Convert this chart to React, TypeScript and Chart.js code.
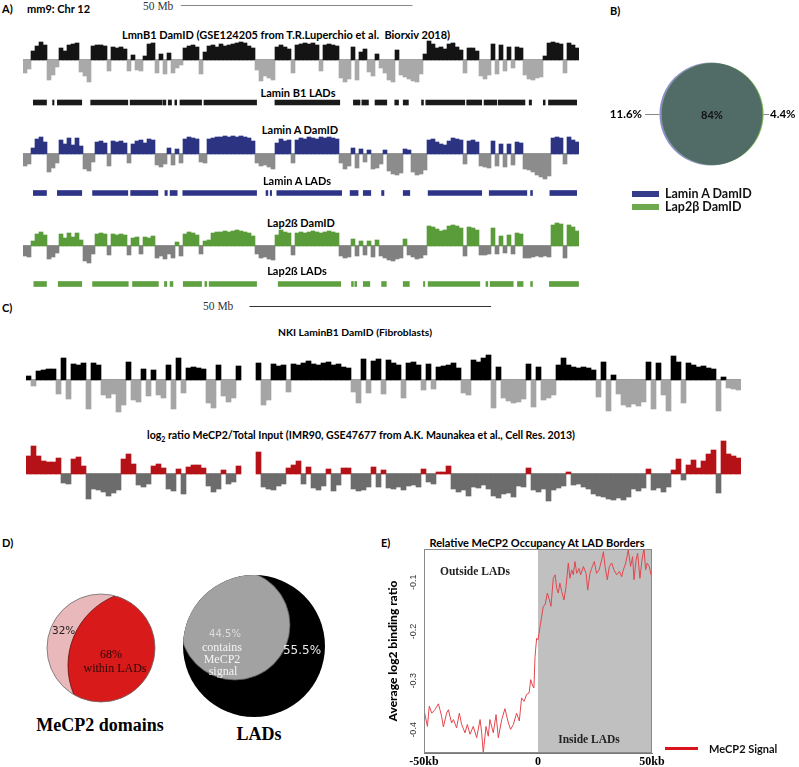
import React, { useEffect, useRef } from 'react';
import { Chart, registerables } from 'chart.js';

Chart.register(...registerables);

const SANS = 'Lato, "Open Sans", sans-serif';
const SERIF = '"Liberation Serif", "DejaVu Serif", serif';

// ---------------- DATA ----------------
// Panel A: mm9 chr12 signal tracks (log2 DamID score per genomic bin)
const A_LMNB1 = [
  -1.3, -0.9, 0.9, 1.4, 1.8, 1.5, -2.0, -1.5, -0.7, 1.2,
  0.9, 1.5, 1.6, 1.7, -1.2, -1.6, -2.2, 1.4, 1.5, 1.5,
  1.4, -1.1, 1.3, 1.2, 1.3, 1.1, -1.1, 0.5, -1.0, -1.1,
  0.4, 1.6, 1.7, -1.3, 0.6, -1.4, 0.7, -1.3, -0.8, -0.5,
  1.2, 1.4, 1.5, 1.3, -1.4, 0.8, 1.4, 1.5, 1.3, 1.6,
  1.4, 1.5, 1.6, 1.7, 1.8, 1.7, 1.4, 1.2, -1.0, -2.1,
  -1.6, -1.8, -2.0, 1.3, 1.5, 1.3, 1.1, -1.3, 1.5, 1.6,
  1.7, 1.6, 1.7, 1.5, -1.1, 1.5, 1.6, 1.5, 1.4, -1.8,
  -2.2, -1.9, 1.3, -2.0, 0.8, 1.1, -1.2, -1.6, 0.6, -0.8,
  -1.3, -2.0, -2.2, 1.0, -1.5, -1.7, -1.9, -2.1, -2.2, -1.4,
  0.6, 1.9, 1.6, 1.2, 1.3, 1.1, 1.6, 1.7, 1.3, 1.0,
  -1.3, 1.2, 1.2, 0.9, -1.6, -1.9, -1.5, 1.6, -1.4, 1.5,
  -1.1, 1.3, -0.8, 1.3, 1.2, -1.5, -1.9, -2.0, -1.8, -1.7,
  0.4, 1.7, 1.8, 1.7, 1.6, -1.3, 1.7, 1.5, 1.2,
];
const A_LAMINA = [
  -1.2, -1.0, 0.6, 1.5, 1.7, 1.2, -1.8, -1.4, -0.9, 1.4,
  1.0, 1.6, 0.9, 1.6, 0.8, -1.5, -1.7, -0.8, 1.2, 1.3,
  1.1, -1.2, 1.3, 1.2, 1.3, 1.1, -0.9, 1.0, 1.3, 1.4,
  1.1, 1.5, 1.4, -1.1, -1.3, -1.0, 0.6, -1.1, 0.5, -0.9,
  1.5, 1.7, 1.6, 1.5, -0.8, -0.9, 1.5, 1.6, 1.7, 1.7,
  1.8, 1.7, 1.8, 1.7, 1.8, 1.7, 1.6, 1.3, -0.9, -1.2,
  -1.1, -1.3, -1.5, 1.1, 1.5, 1.3, 1.4, -0.9, 1.4, 1.6,
  1.5, 1.7, 1.6, 1.5, 1.7, 1.6, 1.7, 1.6, 1.5, -0.9,
  -1.5, -1.2, 0.6, -1.4, 0.5, -0.8, 0.4, -1.5, -1.4, -1.0,
  0.4, -1.7, -2.0, -2.1, -1.9, 0.5, 0.4, -1.8, -2.1, -2.0,
  -1.6, 1.4, 1.5, 1.2, 1.0, 0.9, 1.3, 1.6, 1.5, 1.4,
  -1.0, 1.3, 1.4, 1.2, -1.2, -1.3, -1.4, 1.3, -1.2, 1.0,
  -1.3, 1.0, -1.1, 1.2, 1.1, -1.5, -1.6, -1.8, -2.1, -2.3,
  -2.5, -2.2, 1.6, 1.7, 1.6, -1.0, 1.7, 1.4, 1.2,
];
const A_LAP2 = [
  -1.0, -1.1, 0.5, 1.2, 1.4, 1.1, -1.3, -1.1, -0.7, 1.2,
  0.8, 1.3, 0.9, 1.3, 0.6, -1.5, -1.7, -0.8, 1.2, 1.3,
  1.2, -0.9, 1.2, 1.1, 1.2, 1.1, -0.9, 0.8, 0.9, -0.8,
  0.9, 0.8, 1.0, -1.2, -1.0, -1.3, -0.8, -1.2, 0.4, -1.0,
  1.2, 1.4, 1.3, 1.1, -0.8, 0.5, 0.6, 1.3, 1.4, 1.4,
  1.5, 1.4, 1.5, 1.6, 1.5, 1.4, 1.3, 1.0, -0.8, -1.2,
  -1.1, -1.3, -1.4, 1.1, 1.6, 1.4, 1.3, -0.9, 1.3, 1.4,
  1.3, 1.4, 1.5, 1.4, 1.3, 1.4, 1.5, 1.4, 1.3, -1.0,
  -1.2, -1.1, 0.7, -1.0, 0.5, -0.9, 0.5, -1.1, 0.6, -1.0,
  -1.2, -1.4, -1.5, -1.3, -1.2, 0.7, -0.9, -1.1, -1.3, -1.2,
  -0.9, 2.0, 1.9, 1.7, 1.5, 1.6, 2.0, 2.1, 2.0, 1.8,
  -1.0, 1.9, 1.8, 1.6, -0.9, -0.9, -0.8, 1.8, -0.8, 1.0,
  -0.7, 1.1, -0.8, 1.3, 1.2, -1.2, -1.2, -1.1, -1.0, -1.1,
  -1.0, -1.1, 2.1, 2.3, 2.2, -1.2, 2.1, 1.9, 1.5,
];
// LAD calls, [start Mb, end Mb]
const LAD_B1 = [
  [2.2, 5.0], [6.3, 6.6], [7.3, 12.5], [14.4, 22.3], [22.8, 29.6], [29.8, 30.4], [30.9, 31.6],
  [32.3, 32.7], [33.4, 38.0], [38.5, 49.7], [53.6, 67.4], [70.3, 71.7], [72.1, 73.5], [74.9, 77.4],
  [79.1, 79.9], [80.9, 82.0], [84.8, 85.2], [85.7, 94.0], [94.4, 97.6], [98.1, 100.8], [101.1, 106.8],
  [107.7, 108.2], [110.7, 111.1], [111.8, 117.8],
];
const LAD_LAMINA = [
  [2.2, 5.0], [7.3, 12.5], [14.8, 22.3], [22.9, 28.7], [30.2, 30.7], [31.3, 32.8], [34.0, 49.7],
  [51.7, 52.1], [52.6, 52.9], [54.0, 67.8], [69.6, 71.3], [72.4, 74.0], [76.3, 76.8], [80.9, 82.3],
  [86.2, 97.6], [99.2, 107.2], [108.0, 108.4], [112.1, 117.8],
];
const LAD_LAP2 = [
  [2.3, 5.0], [7.5, 12.5], [14.8, 22.4], [23.3, 28.8], [30.1, 30.6], [31.3, 31.9], [34.1, 38.0],
  [38.7, 39.1], [39.6, 49.7], [54.3, 67.6], [69.9, 70.3], [70.6, 71.0], [72.4, 73.8], [76.3, 77.3],
  [80.9, 82.2], [85.2, 85.5], [86.2, 97.2], [98.5, 98.9], [99.4, 104.3], [105.2, 106.4],
  [108.0, 108.4], [112.0, 118.2],
];
const A_CHR_MB = 118.3;
const A_SCALE_MB = [33.2, 83.2];

// Panel C: human chromosome tracks (null = centromere gap)
const C_NKI = [
  0.4, -0.6, 0.9, 1.0, 1.1, 1.1, -1.4, 2.2, -1.9, 1.6,
  1.5, 1.7, -2.9, 1.7, 1.5, -1.5, -1.8, -1.4, -3.2, -2.5,
  1.8, -2.0, -2.2, 1.1, -1.6, 1.0, -1.5, -1.8, 1.5, -2.9,
  2.2, -1.3, 1.2, 1.3, 1.2, 1.1, -2.3, -2.8, 1.5, -1.6,
  -2.2, -1.8, 1.4, null, null, null, 1.7, -2.5, -2.0, 1.6,
  1.4, 1.5, -1.2, 1.6, 1.5, 1.7, 1.9, 1.6, 1.5, 1.7,
  1.8, 1.5, 1.6, 1.3, 1.2, -1.2, -2.3, 2.1, -1.3, 1.9,
  2.1, -1.4, 2.0, 1.7, 1.5, -1.8, 1.7, 1.8, 1.5, -1.0,
  1.6, -0.9, 1.3, 1.4, 1.5, 1.7, 1.2, -1.3, -1.5, 2.0,
  1.8, 2.2, 2.5, -2.8, 1.3, -1.8, -2.1, -2.3, -2.2, -1.9,
  1.6, -2.7, 1.3, -2.0, -1.8, -1.5, 1.5, 2.2, 1.5, 1.3,
  1.2, 1.3, 1.2, 1.0, -1.7, 1.8, -3.1, 0.5, -1.4, -2.5,
  -2.7, -2.4, -2.6, -2.2, 1.8, -2.9, 1.7, -1.5, -3.1, 2.4,
  1.8, -2.3, 1.7, 1.5, 1.3, 1.4, 1.2, 1.1, -3.1, 0.3,
  -0.8, -0.9, -1.0,
];
const C_MECP2 = [
  1.8, 2.8, 1.8, 1.3, 1.2, 1.2, 1.6, -0.9, -1.0, 1.5,
  1.7, 0.8, -2.5, -1.5, -1.6, -1.8, -2.2, -1.9, -1.6, 1.5,
  2.0, 1.0, -1.1, -1.3, -1.0, 0.8, 1.0, 0.6, -1.5, -1.7,
  0.5, -2.0, 0.7, 0.9, 0.9, 0.6, -1.2, -1.8, -1.5, 0.4,
  -1.0, -0.8, 0.8, null, null, null, 2.2, -1.3, -1.5, -1.6,
  -1.2, -1.0, 0.6, 0.9, 1.3, -1.0, 0.7, -1.4, -1.6, -1.2,
  0.5, -1.7, -1.1, 0.6, 0.6, -1.5, -1.7, -1.6, -1.3, 0.7,
  -1.3, 0.4, -1.4, -1.5, -1.3, -1.6, -1.2, -1.1, -1.3, 0.5,
  -0.8, -1.0, 0.2, 0.2, 0.8, -1.5, -1.8, -1.6, -2.2, -1.3,
  -1.4, -1.1, -1.5, -2.2, -2.4, -2.0, -1.9, -2.3, -1.2, -1.3,
  0.6, -1.6, -1.8, -1.5, -2.7, -1.6, -1.4, -1.2, 0.2, -1.1,
  -1.0, -1.3, -1.5, -2.0, -2.2, -2.3, -2.5, -2.6, -2.4, -2.6,
  -2.3, -1.5, -1.7, -1.4, 0.5, -1.6, -1.4, -1.8, -1.3, 0.4,
  1.5, -0.6, 0.9, 1.4, 0.6, 1.3, 2.0, 2.4, -1.9, 3.3,
  2.0, 1.8, 1.6,
];
const C_CHR_MB = 146.5;
const C_SCALE_MB = [45.5, 95.5];

// Panel E: average MeCP2 log2 ratio around LAD borders
const E_KB = [
  -50.0, -48.5, -47.7, -46.6, -45.2, -43.7, -43.0, -42.3, -41.5, -40.1,
  -39.3, -37.9, -37.1, -35.7, -34.5, -33.5, -32.0, -31.0, -29.8, -28.4,
  -26.9, -25.4, -24.7, -24.0, -22.8, -21.8, -21.1, -19.6, -18.4, -17.4,
  -15.9, -14.5, -13.0, -12.0, -10.8, -9.4, -8.2, -7.2, -6.1, -5.0,
  -3.9, -3.2, -2.3, -1.8, -1.3, -0.6,
  0.0, 0.9, 1.6, 2.3, 3.1, 4.1, 5.0, 5.7, 6.7, 7.5,
  8.2, 8.9, 9.6, 10.4, 11.4, 12.3, 13.3, 14.0, 14.8, 15.5,
  16.2, 17.0, 18.0, 18.7, 19.9, 21.1, 21.8, 22.8, 23.5, 24.7,
  25.7, 26.8, 27.9, 28.7, 29.4, 30.4, 31.3, 32.3, 33.3, 34.5,
  35.7, 36.7, 37.4, 38.5, 39.6, 40.6, 41.5, 42.1, 43.0, 43.7,
  44.7, 45.6, 46.5, 47.2, 47.9, 48.8, 49.6, 50.0,
];
const E_VAL = [
  -0.359, -0.393, -0.352, -0.366, -0.359, -0.347, -0.359, -0.372, -0.394, -0.366,
  -0.359, -0.386, -0.379, -0.396, -0.366, -0.389, -0.406, -0.389, -0.409, -0.393,
  -0.416, -0.379, -0.406, -0.447, -0.393, -0.413, -0.379, -0.406, -0.369, -0.416,
  -0.379, -0.357, -0.386, -0.399, -0.389, -0.366, -0.382, -0.335, -0.342, -0.328,
  -0.325, -0.298, -0.311, -0.315, -0.251, -0.214,
  -0.217, -0.190, -0.170, -0.149, -0.146, -0.122, -0.136, -0.149, -0.092, -0.085,
  -0.112, -0.122, -0.102, -0.119, -0.136, -0.109, -0.061, -0.092, -0.075, -0.085,
  -0.058, -0.082, -0.072, -0.085, -0.068, -0.082, -0.116, -0.082, -0.072, -0.058,
  -0.082, -0.075, -0.055, -0.038, -0.068, -0.095, -0.068, -0.061, -0.075, -0.085,
  -0.078, -0.089, -0.075, -0.061, -0.034, -0.068, -0.048, -0.095, -0.055, -0.041,
  -0.092, -0.055, -0.031, -0.075, -0.061, -0.068, -0.085, -0.075,
];
const E_XTICKS = [-50, 0, 50];
const E_XLABELS = ['-50kb', '0', '50kb'];
const E_YTICKS = [-0.4, -0.3, -0.2, -0.1];
const E_YLABELS = ['-0.4', '-0.3', '-0.2', '-0.1'];
const E_RANGE = [-0.447, -0.0325];
const E_LAD_START = 0;

// Venn percentages
const VENN_B = ['11.6%', '84%', '4.4%'];
const VENN_D1 = ['32%', '68%'];
const VENN_D2 = ['44.5%', '55.5%'];

// Venn geometry (chart units; main circle radius = 1)
const GEO_B = { a: { x: -0.02, y: 0, r: 1 }, b: { x: 0.012, y: 0, r: 0.99 } };
const GEO_D1 = { a: { x: 0, y: 0, r: 1 }, b: { x: 0.778, y: -0.324, r: 1.389 } };
const GEO_D2 = { a: { x: 0, y: 0, r: 1 }, b: { x: -0.268, y: 0.296, r: 0.775 } };

// ---------------- PLUGINS ----------------
function zeroLine(color: string) {
  return {
    id: 'zeroLine',
    beforeDatasetsDraw(chart: any) {
      const { ctx } = chart;
      const y = Math.round(chart.scales.y.getPixelForValue(0)) - 0.5;
      const meta = chart.getDatasetMeta(0);
      const data = chart.data.datasets[0].data;
      ctx.save();
      ctx.strokeStyle = color;
      ctx.lineWidth = 1;
      ctx.beginPath();
      meta.data.forEach((bar: any, i: number) => {
        if (data[i] === null || !isFinite(bar.x)) return;
        ctx.moveTo(bar.x - bar.width / 2, y);
        ctx.lineTo(bar.x + bar.width / 2, y);
      });
      ctx.stroke();
      ctx.restore();
    },
  };
}

type Circ = { x: number; y: number; r: number };
type Layer = { circle: Circ; clip?: Circ; fill?: string; stroke?: string; lw?: number };
type Leader = { from: [number, number]; to: [number, number]; color: string };

function vennPlugin(layers: Layer[], leaders: Leader[] = []) {
  return {
    id: 'venn',
    afterDatasetsDraw(chart: any) {
      const { ctx } = chart;
      const sx = chart.scales.x;
      const sy = chart.scales.y;
      const path = (c: Circ) => {
        const cx = sx.getPixelForValue(c.x);
        const cy = sy.getPixelForValue(c.y);
        const r = Math.abs(sx.getPixelForValue(c.x + c.r) - cx);
        ctx.beginPath();
        ctx.arc(cx, cy, r, 0, Math.PI * 2);
      };
      layers.forEach((L) => {
        ctx.save();
        if (L.clip) {
          path(L.clip);
          ctx.clip();
        }
        path(L.circle);
        if (L.fill) {
          ctx.fillStyle = L.fill;
          ctx.fill();
        }
        if (L.stroke) {
          ctx.strokeStyle = L.stroke;
          ctx.lineWidth = L.lw || 1;
          ctx.stroke();
        }
        ctx.restore();
      });
      leaders.forEach((l) => {
        ctx.save();
        ctx.strokeStyle = l.color;
        ctx.lineWidth = 1;
        ctx.beginPath();
        const y = Math.round(sy.getPixelForValue(l.from[1])) + 0.5;
        ctx.moveTo(sx.getPixelForValue(l.from[0]), y);
        ctx.lineTo(sx.getPixelForValue(l.to[0]), y);
        ctx.stroke();
        ctx.restore();
      });
    },
  };
}

function shadePlugin(from: number, color: string, frame: string) {
  return {
    id: 'shade',
    beforeDatasetsDraw(chart: any) {
      const { ctx, chartArea } = chart;
      const x0 = chart.scales.x.getPixelForValue(from);
      ctx.save();
      ctx.fillStyle = color;
      ctx.fillRect(x0, chartArea.top, chartArea.right - x0, chartArea.bottom - chartArea.top);
      ctx.restore();
    },
    afterDraw(chart: any) {
      const { ctx, chartArea } = chart;
      ctx.save();
      ctx.strokeStyle = frame;
      ctx.lineWidth = 1;
      ctx.strokeRect(chartArea.left + 0.5, chartArea.top + 0.5, chartArea.right - chartArea.left - 1, chartArea.bottom - chartArea.top - 1);
      ctx.restore();
    },
  };
}

// ---------------- CONFIG BUILDERS ----------------
const baseOpts = () => ({
  animation: false,
  responsive: false,
  maintainAspectRatio: false,
  devicePixelRatio: 1,
  events: [],
  layout: { padding: 0 },
  plugins: { legend: { display: false }, tooltip: { enabled: false } },
});

function trackConfig(values: (number | null)[], pos: string, neg: string, min: number, max: number, zero: string) {
  return {
    type: 'bar',
    data: {
      labels: values.map((_, i) => i),
      datasets: [
        {
          data: values,
          backgroundColor: values.map((v) => ((v ?? 0) >= 0 ? pos : neg)),
          borderWidth: 0,
          barPercentage: 1,
          categoryPercentage: 1,
        },
      ],
    },
    options: {
      ...baseOpts(),
      scales: { x: { display: false }, y: { display: false, min, max } },
    },
    plugins: [zeroLine(zero)],
  };
}

function ladConfig(segs: number[][], color: string, maxMb: number) {
  return {
    type: 'bar',
    data: {
      datasets: [
        {
          data: segs.map((s) => ({ x: s, y: 0 })),
          backgroundColor: color,
          borderWidth: 0,
          barThickness: 5,
        },
      ],
    },
    options: {
      ...baseOpts(),
      indexAxis: 'y',
      scales: {
        x: { type: 'linear', display: false, min: 0, max: maxMb },
        y: { type: 'linear', display: false, min: -1, max: 1 },
      },
    },
  };
}

function scaleBarConfig(range: number[], maxMb: number, color: string) {
  return {
    type: 'line',
    data: {
      datasets: [
        {
          data: range.map((x) => ({ x, y: 0 })),
          borderColor: color,
          borderWidth: 1,
          pointStyle: 'line',
          pointRadius: 2.5,
          pointRotation: 90,
          pointBorderColor: color,
          pointBorderWidth: 1,
        },
      ],
    },
    options: {
      ...baseOpts(),
      scales: {
        x: { type: 'linear', display: false, min: 0, max: maxMb },
        y: { type: 'linear', display: false, min: -1, max: 1 },
      },
    },
  };
}

function vennConfig(w: number, h: number, unit: number, layers: Layer[], leaders: Leader[] = []) {
  return {
    type: 'scatter',
    data: { datasets: [] },
    options: {
      ...baseOpts(),
      scales: {
        x: { type: 'linear', display: false, min: -w / 2 / unit, max: w / 2 / unit },
        y: { type: 'linear', display: false, min: -h / 2 / unit, max: h / 2 / unit },
      },
    },
    plugins: [vennPlugin(layers, leaders)],
  };
}

function lineConfig() {
  return {
    type: 'line',
    data: {
      datasets: [
        {
          data: E_KB.map((x, i) => ({ x, y: E_VAL[i] })),
          borderColor: '#e3474e',
          borderWidth: 1,
          pointRadius: 0,
          tension: 0,
          fill: false,
        },
      ],
    },
    options: {
      ...baseOpts(),
      layout: { padding: { left: 0, right: 34, top: 19, bottom: 0 } },
      scales: {
        x: {
          type: 'linear',
          min: -50,
          max: 50,
          afterBuildTicks: (s: any) => {
            s.ticks = E_XTICKS.map((v) => ({ value: v }));
          },
          afterFit: (s: any) => {
            s.height = 14;
          },
          grid: { display: false, drawTicks: false },
          border: { display: true, color: '#777' },
          ticks: {
            padding: 2,
            color: '#000',
            maxRotation: 0,
            autoSkip: false,
            font: { family: SERIF, size: 12, weight: 'bold' },
            callback: (_v: any, i: number) => E_XLABELS[i],
          },
        },
        y: {
          type: 'linear',
          min: E_RANGE[0],
          max: E_RANGE[1],
          afterBuildTicks: (s: any) => {
            s.ticks = E_YTICKS.map((v) => ({ value: v }));
          },
          afterFit: (s: any) => {
            s.width = 38;
          },
          grid: { display: false, drawTicks: false },
          border: { display: true, color: '#777' },
          ticks: {
            minRotation: 90,
            maxRotation: 90,
            crossAlign: 'center',
            padding: 3,
            color: '#333',
            font: { family: '"Liberation Sans", Arial, sans-serif', size: 9 },
            callback: (_v: any, i: number) => E_YLABELS[i],
          },
          title: {
            display: true,
            text: 'Average log2 binding ratio',
            color: '#000',
            font: { family: SANS, size: 12, weight: '900' },
            padding: { top: 0, bottom: 0 },
          },
        },
      },
    },
    plugins: [shadePlugin(E_LAD_START, '#c0c0c0', '#8a8a8a')],
  };
}

// ---------------- COMPONENTS ----------------
function ChartBox({ x, y, w, h, make }: { x: number; y: number; w: number; h: number; make: () => any }) {
  const ref = useRef<HTMLCanvasElement | null>(null);
  useEffect(() => {
    const chart = new Chart(ref.current as HTMLCanvasElement, make());
    return () => chart.destroy();
  }, []);
  return (
    <canvas
      ref={ref}
      width={w}
      height={h}
      style={{ position: 'absolute', left: x, top: y, width: w, height: h, display: 'block' }}
    />
  );
}

function Txt({
  x,
  y,
  children,
  size = 11,
  weight = 700,
  family = SANS,
  color = '#000',
  align = 'left',
}: {
  x: number;
  y: number;
  children: any;
  size?: number;
  weight?: number;
  family?: string;
  color?: string;
  align?: 'left' | 'center' | 'right';
}) {
  const tx = align === 'center' ? '-50%' : align === 'right' ? '-100%' : '0';
  return (
    <div
      style={{
        position: 'absolute',
        left: x,
        top: y,
        transform: `translate(${tx}, -50%)`,
        fontSize: size,
        fontWeight: weight,
        fontFamily: family,
        color,
        whiteSpace: 'nowrap',
        lineHeight: 1,
      }}
    >
      {children}
    </div>
  );
}

export default function App() {
  return (
    <div
      style={{
        position: 'absolute',
        left: 0,
        top: 0,
        width: 799,
        height: 767,
        background: '#fff',
        overflow: 'hidden',
      }}
    >
      {/* Panel A */}
      <Txt x={2} y={8}>A)</Txt>
      <Txt x={27} y={8}>mm9: Chr 12</Txt>
      <Txt x={143} y={7} size={11.5} weight={400} family={SERIF} color="#333">50 Mb</Txt>
      <ChartBox x={23} y={0} w={556} h={11} make={() => scaleBarConfig(A_SCALE_MB, A_CHR_MB, '#888')} />

      <Txt x={286} y={34} align="center">LmnB1 DamID (GSE124205 from T.R.Luperchio et al.&nbsp; Biorxiv 2018)</Txt>
      <ChartBox x={23} y={40} w={556} h={44} make={() => trackConfig(A_LMNB1, '#141414', '#a9a9a9', -2.4, 2.0, '#a0a0a0')} />
      <Txt x={298} y={92} align="center">Lamin B1 LADs</Txt>
      <ChartBox x={23} y={98} w={556} h={9} make={() => ladConfig(LAD_B1, '#1a1a1a', A_CHR_MB)} />

      <Txt x={300} y={129} align="center">Lamin A DamID</Txt>
      <ChartBox x={23} y={134} w={556} h={48} make={() => trackConfig(A_LAMINA, '#2c3482', '#8c8c8c', -2.8, 2.0, '#999')} />
      <Txt x={297} y={180} align="center">Lamin A LADs</Txt>
      <ChartBox x={23} y={188} w={556} h={10} make={() => ladConfig(LAD_LAMINA, '#2e3588', A_CHR_MB)} />

      <Txt x={301} y={222} align="center">Lap2ß DamID</Txt>
      <ChartBox x={23} y={220} w={556} h={46} make={() => trackConfig(A_LAP2, '#5a9c3a', '#808080', -2.0, 2.6, '#999')} />
      <Txt x={297} y={270} align="center">Lap2ß LADs</Txt>
      <ChartBox x={23} y={279} w={556} h={10} make={() => ladConfig(LAD_LAP2, '#5fa040', A_CHR_MB)} />

      {/* Panel B */}
      <Txt x={610} y={10}>B)</Txt>
      <ChartBox
        x={640}
        y={54}
        w={144}
        h={120}
        make={() =>
          vennConfig(144, 120, 51.5, [
            { circle: GEO_B.a, fill: '#8b8fc5' },
            { circle: GEO_B.b, fill: '#7db55c' },
            { circle: GEO_B.b, clip: GEO_B.a, fill: '#516b67' },
          ], [
            { from: [-1.02, 0], to: [-1.3, 0], color: '#888' },
            { from: [1.0, 0], to: [1.11, 0], color: '#888' },
          ])
        }
      />
      <Txt x={712} y={114} align="center" size={11} color="#111">{VENN_B[1]}</Txt>
      <Txt x={642} y={114} align="right" size={11.5}>{VENN_B[0]}</Txt>
      <Txt x={770} y={114} size={11.5}>{VENN_B[2]}</Txt>
      <div style={{ position: 'absolute', left: 632, top: 191, width: 27, height: 6, background: '#353c89' }} />
      <div style={{ position: 'absolute', left: 632, top: 204, width: 27, height: 5.5, background: '#6ea84f' }} />
      <Txt x={665} y={193.5} size={12.5} color="#111">Lamin A DamID</Txt>
      <Txt x={665} y={206.5} size={12.5} color="#111">Lap2β DamID</Txt>

      {/* Panel C */}
      <Txt x={2} y={307}>C)</Txt>
      <Txt x={203} y={307} size={11.5} weight={400} family={SERIF} color="#333">50 Mb</Txt>
      <ChartBox x={26} y={301} w={715} h={11} make={() => scaleBarConfig(C_SCALE_MB, C_CHR_MB, '#333')} />
      <Txt x={355} y={332} align="center" size={10.3}>NKI LaminB1 DamID (Fibroblasts)</Txt>
      <ChartBox x={26} y={354} w={715} h={60} make={() => trackConfig(C_NKI, '#000', '#a5a5a5', -3.4, 2.6, '#999')} />
      <Txt x={361} y={435} align="center" size={10.6}>
        log<span style={{ fontSize: 7, position: 'relative', top: 3 }}>2</span> ratio MeCP2/Total Input (IMR90, GSE47677 from A.K. Maunakea et al., Cell Res. 2013)
      </Txt>
      <ChartBox x={26} y={439} w={715} h={64} make={() => trackConfig(C_MECP2, '#b51218', '#6c6c6c', -2.9, 3.5, '#999')} />

      {/* Panel D */}
      <Txt x={2} y={542}>D)</Txt>
      <ChartBox
        x={39}
        y={586}
        w={124}
        h={124}
        make={() =>
          vennConfig(124, 124, 54, [
            { circle: GEO_D1.a, fill: '#e9b8ba' },
            { circle: GEO_D1.b, clip: GEO_D1.a, fill: '#d81a1a', stroke: '#5a1010', lw: 0.8 },
            { circle: GEO_D1.a, stroke: '#6d6d6d', lw: 0.8 },
          ])
        }
      />
      <ChartBox
        x={178}
        y={570}
        w={152}
        h={152}
        make={() =>
          vennConfig(152, 152, 71, [
            { circle: GEO_D2.a, fill: '#000' },
            { circle: GEO_D2.b, clip: GEO_D2.a, fill: '#a2a2a2', stroke: '#555', lw: 0.8 },
          ])
        }
      />
      <Txt x={52} y={630} size={10.5} weight={400} family='"DejaVu Sans", sans-serif' color="#222">{VENN_D1[0]}</Txt>
      <Txt x={111} y={654} align="center" size={12} weight={400} family={SERIF} color="#2a0808">{VENN_D1[1]}</Txt>
      <Txt x={115} y={668} align="center" size={12} weight={400} family={SERIF} color="#2a0808">within LADs</Txt>
      <Txt x={225} y={634} align="center" size={10} weight={400} family='"DejaVu Sans", sans-serif' color="#dcdcdc">{VENN_D2[0]}</Txt>
      <Txt x={222} y={647} align="center" size={12} weight={400} family={SERIF} color="#f4f4f4">contains</Txt>
      <Txt x={222} y={659} align="center" size={12} weight={400} family={SERIF} color="#f4f4f4">MeCP2</Txt>
      <Txt x={223} y={671} align="center" size={12} weight={400} family={SERIF} color="#f4f4f4">signal</Txt>
      <Txt x={302} y={650} align="center" size={12} weight={400} family='"DejaVu Sans", sans-serif' color="#eaeaea">{VENN_D2[1]}</Txt>
      <Txt x={100} y={725} align="center" size={18} family={SERIF}>MeCP2 domains</Txt>
      <Txt x={259} y={734} align="center" size={18} family={SERIF}>LADs</Txt>

      {/* Panel E */}
      <Txt x={381} y={542}>E)</Txt>
      <Txt x={537} y={542} align="center" size={11}>Relative MeCP2 Occupancy At LAD Borders</Txt>
      <ChartBox x={386} y={530} w={300} h={237} make={lineConfig} />
      <Txt x={475} y={572} align="center" size={11.5} family={SERIF} color="#222">Outside LADs</Txt>
      <Txt x={589} y={740} align="center" size={11.5} family={SERIF} color="#222">Inside LADs</Txt>
      <div style={{ position: 'absolute', left: 665, top: 746.5, width: 33, height: 3, background: '#d9141c' }} />
      <Txt x={709} y={748} size={11} color="#111">MeCP2 Signal</Txt>
    </div>
  );
}
